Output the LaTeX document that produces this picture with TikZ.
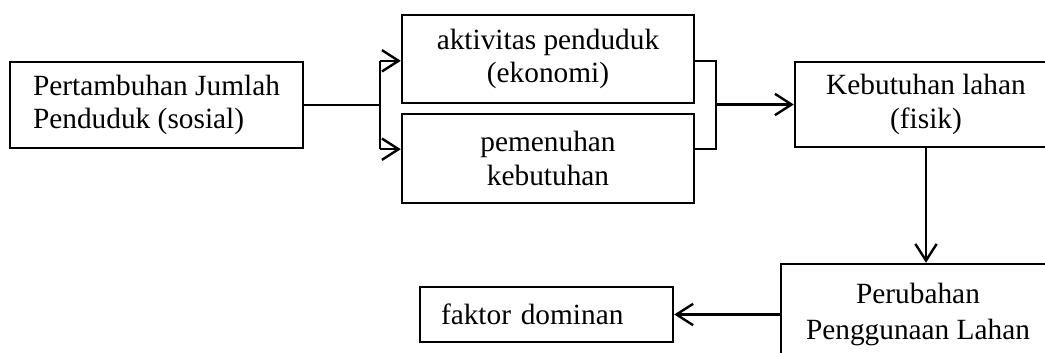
\documentclass[tikz,border=0pt]{standalone}
\usepackage{fontspec}
\setmainfont{Liberation Serif}
\usepackage{tikz}
\usetikzlibrary{arrows.meta,positioning}

\begin{document}
\begin{tikzpicture}[x=0.75pt, y=-0.75pt,
    box/.style={draw, line width=1.8pt, inner sep=0pt, align=center,
      font=\fontsize{22}{25}\selectfont},
    line/.style={line width=1.8pt},
    arr/.style={line width=1.8pt, -{Straight Barb[length=12.5pt, width=16pt, line width=1.8pt]}}]
  \useasboundingbox (0,0) rectangle (1045,353);
  \clip (0,0) rectangle (1045,353);
  \node[box, align=left, minimum width=219.75pt, minimum height=64.5pt] (pop) at (156.5,105)
    {Pertambuhan Jumlah\\Penduduk (sosial)};
  \node[box, minimum width=219pt, minimum height=66pt] (eko) at (548,59)
    {aktivitas penduduk\\(ekonomi)};
  \node[box, minimum width=219pt, minimum height=66.75pt] (kebu) at (548,158.5)
    {pemenuhan\\kebutuhan};
  \node[box, minimum width=196.5pt, minimum height=63.75pt] (lahan) at (926,104.5)
    {Kebutuhan lahan\\(fisik)};
  \node[box, minimum width=205.5pt, minimum height=75.75pt] (ubah) at (918,314.5)
    {Perubahan\\[2pt]Penggunaan Lahan};
  \node[box, align=left, text width=158.25pt, inner xsep=15.75pt, minimum height=41.25pt] (faktor) at (546.5,314.5)
    {faktor dominan};
  % split into the two middle boxes
  \coordinate (split) at (380,105);
  \draw[line] (pop.east) -- (split);
  \draw[line] (split |- pop.north) -- (split |- pop.south);
  \draw[arr] (split |- pop.north) -- (eko.west |- pop.north);
  \draw[arr] (split |- pop.south) -- (kebu.west |- pop.south);
  % merge towards land demand
  \coordinate (merge) at (716,104.5);
  \draw[line] (eko.east |- pop.north) -| (merge |- pop.south) -- (kebu.east |- pop.south);
  \draw[arr] (merge) -- (lahan.west);
  \draw[arr] (lahan.south) -- (lahan.south |- ubah.north);
  \draw[arr] (ubah.west) -- (faktor.east);
\end{tikzpicture}
\end{document}
